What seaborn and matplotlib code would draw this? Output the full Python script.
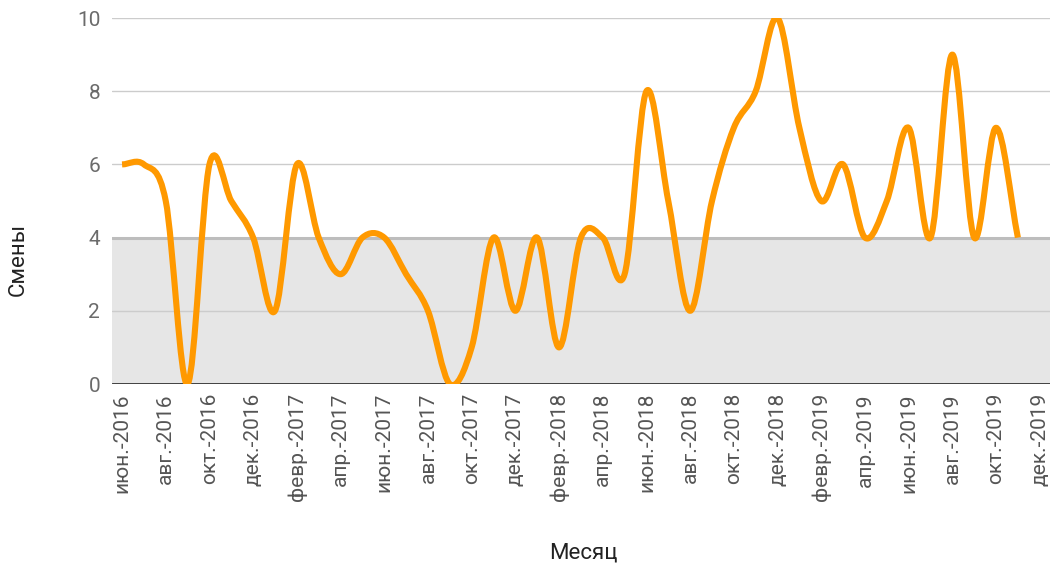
import numpy as np
import pandas as pd
import matplotlib
matplotlib.use("Agg")
import matplotlib.pyplot as plt
from matplotlib.path import Path
from matplotlib.patches import PathPatch
import seaborn as sns

# monthly data, June 2016 - November 2019
months = pd.period_range("2016-06", "2019-11", freq="M")
shifts = [6, 6, 5, 0, 6, 5, 4, 2,
          6, 4, 3, 4, 4, 3, 2, 0,
          1, 4, 2, 4, 1, 4, 4, 3,
          8, 5, 2, 5, 7, 8, 10, 7,
          5, 6, 4, 5, 7, 4, 9, 4,
          7, 4]
threshold = 4
tick_labels = ["июн.-2016", "авг.-2016", "окт.-2016", "дек.-2016",
               "февр.-2017", "апр.-2017", "июн.-2017", "авг.-2017",
               "окт.-2017", "дек.-2017", "февр.-2018", "апр.-2018",
               "июн.-2018", "авг.-2018", "окт.-2018", "дек.-2018",
               "февр.-2019", "апр.-2019", "июн.-2019", "авг.-2019",
               "окт.-2019", "дек.-2019"]

df = pd.DataFrame({"month": months.astype(str), "shifts": shifts})
df["idx"] = np.arange(len(df))

sns.set_theme(style="whitegrid")
plt.rcParams["font.family"] = ["Roboto", "DejaVu Sans"]

fig = plt.figure(figsize=(10.54, 5.70), dpi=100)
ax = fig.add_axes([112 / 1054, 1 - 384 / 570, (1050 - 112) / 1054, (384 - 18) / 570])

# smooth line: Catmull-Rom spline drawn as cubic bezier segments
x = df["idx"].to_numpy(dtype=float)
y = df["shifts"].to_numpy(dtype=float)
m = np.empty_like(y)
m[1:-1] = (y[2:] - y[:-2]) / 2
m[0] = y[1] - y[0]
m[-1] = y[-1] - y[-2]
verts = [(x[0], y[0])]
codes = [Path.MOVETO]
for i in range(len(x) - 1):
    verts += [(x[i] + 1 / 3, y[i] + m[i] / 3),
              (x[i + 1] - 1 / 3, y[i + 1] - m[i + 1] / 3),
              (x[i + 1], y[i + 1])]
    codes += [Path.CURVE4] * 3
ax.add_patch(PathPatch(Path(verts, codes), facecolor="none", edgecolor="#FF9900",
                       lw=4.4, capstyle="butt", joinstyle="round", zorder=4))

# shaded band below threshold
ax.axhspan(0, threshold, color="#e6e6e6", lw=0, zorder=0.2)
ax.axhline(threshold, color="#bdbdbd", lw=2.2, zorder=2)
ax.axhline(0, color="#333333", lw=2, zorder=3)

ax.set_xlim(-0.46, 42.47)
ax.set_ylim(0, 10)
ax.set_yticks(range(0, 11, 2))
ax.set_xticks(range(0, 43, 2))
ax.set_xticklabels(tick_labels, rotation=90, ha="center", va="top")
ax.grid(axis="y", color="#cccccc", lw=1)
ax.grid(axis="x", visible=False)
ax.set_axisbelow(True)
ax.tick_params(axis="x", length=0, pad=6.5, labelsize=15, labelcolor="#555555")
ax.tick_params(axis="y", length=0, pad=8.5, labelsize=15, labelcolor="#6b6b6b")
sns.despine(ax=ax, left=True, bottom=True)
ax.set_facecolor("white")

fig.text(18 / 1054, 1 - 259 / 570, "Смены", rotation=90, ha="center", va="center",
         fontsize=16, color="#222222")
fig.text(583 / 1054, 1 - 553 / 570, "Месяц", ha="center", va="center",
         fontsize=16, color="#222222")

fig.savefig("out.png", dpi=100)
